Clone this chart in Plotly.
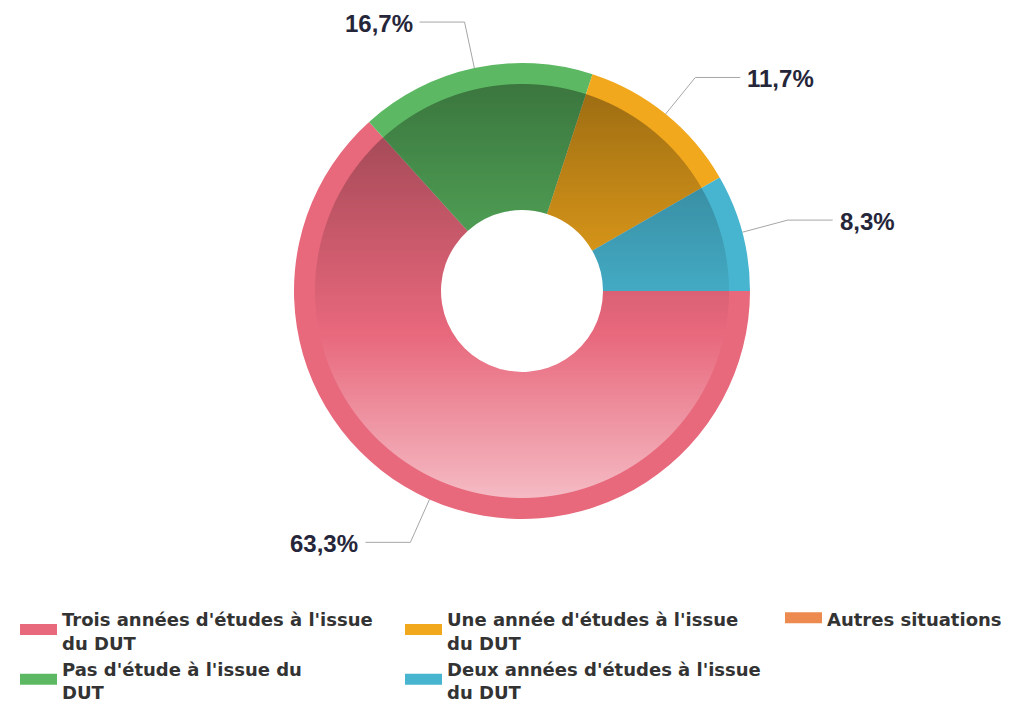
import base64
import struct
import zlib

import numpy as np
import plotly.graph_objects as go

# donnees
labels = [
    "Trois années d'études à l'issue du DUT",
    "Pas d'étude à l'issue du DUT",
    "Une année d'études à l'issue du DUT",
    "Deux années d'études à l'issue du DUT",
    "Autres situations",
]
values = [63.3, 16.7, 11.7, 8.3, 0.0]
colors = ["#e8687c", "#5cb862", "#f2a81d", "#48b5d0", "#ec8a50"]

# ordre et colonnes de la legende
legend_order = [0, 2, 4, 1, 3]
legend_names = [
    "Trois années d'études à l'issue<br>du DUT",
    "Pas d'étude à l'issue du<br>DUT",
    "Une année d'études à l'issue<br>du DUT",
    "Deux années d'études à l'issue<br>du DUT",
    "Autres situations",
]
legend_cols = ["legend", "legend", "legend2", "legend2", "legend3"]

# la page html ajoute une marge de 8px autour du graphique
OFF = 8
W, H = 1013 - OFF, 707 - OFF
CX, CY, R = 522 - OFF, 291 - OFF, 228
HOLE = 81
INNER = 207


def png_uri(rgba):
    h, w, _ = rgba.shape
    raw = b"".join(b"\x00" + rgba[i].tobytes() for i in range(h))

    def chunk(tag, data):
        c = struct.pack(">I", len(data)) + tag + data
        return c + struct.pack(">I", zlib.crc32(tag + data) & 0xFFFFFFFF)

    png = (b"\x89PNG\r\n\x1a\n"
           + chunk(b"IHDR", struct.pack(">IIBBBBB", w, h, 8, 6, 0, 0, 0))
           + chunk(b"IDAT", zlib.compress(raw, 9))
           + chunk(b"IEND", b""))
    return "data:image/png;base64," + base64.b64encode(png).decode()


def ring_shading():
    # degrade vertical (sombre en haut, clair en bas) sur la partie interieure
    n = 2 * INNER
    yy, xx = np.mgrid[0:n, 0:n] + 0.5
    r = np.hypot(xx - INNER, yy - INNER)
    mask = np.clip(r - HOLE + 0.5, 0, 1) * np.clip(INNER - r + 0.5, 0, 1)
    t = yy / n
    dark = t < 0.6
    alpha = np.where(dark, 0.36 * (1 - t / 0.6), 0.55 * (t - 0.6) / 0.4)
    img = np.zeros((n, n, 4), dtype=np.uint8)
    img[..., :3] = np.where(dark, 0, 255)[..., None]
    img[..., 3] = np.clip(alpha * mask * 255, 0, 255).astype(np.uint8)
    return png_uri(img)


fig = go.Figure()

fig.add_trace(go.Pie(
    labels=labels,
    values=values,
    sort=False,
    direction="clockwise",
    rotation=90,
    hole=HOLE / R,
    textinfo="none",
    marker=dict(colors=colors, line=dict(width=0)),
    domain=dict(x=[(CX - R) / W, (CX + R) / W], y=[(H - CY - R) / H, (H - CY + R) / H]),
    showlegend=False,
))

# connecteurs et etiquettes
cum = 0.0
total = sum(values)
for v in values:
    if v <= 0:
        continue
    mid = (cum + v / 2) / total * 2 * np.pi
    cum += v
    ang = -mid
    ex, ey = CX + R * np.cos(ang), CY - R * np.sin(ang)
    kx, ky = CX + (R + 47) * np.cos(ang), CY - (R + 47) * np.sin(ang)
    side = 1 if np.cos(ang) >= 0 else -1
    hx = kx + side * 45
    fig.add_trace(go.Scatter(
        x=[ex, kx, hx], y=[ey, ky, ky], mode="lines",
        line=dict(color="#a6a6a6", width=1),
        hoverinfo="skip", showlegend=False,
    ))
    fig.add_annotation(
        x=hx + side * 5, y=ky + 1, xref="x", yref="y",
        text=f"{v:.1f}".replace(".", ",") + "%",
        showarrow=False,
        xanchor="left" if side > 0 else "right", yanchor="middle",
        font=dict(family="Liberation Sans", size=24, color="#26263a", weight="bold"),
    )

# legende
for i in legend_order:
    fig.add_trace(go.Scatter(
        x=[None], y=[None], mode="lines",
        line=dict(color=colors[i], width=10),
        fill="toself", fillcolor=colors[i],
        name=legend_names[i], legend=legend_cols[i],
    ))

leg_font = dict(family="DejaVu Sans", size=18, color="#333333", weight="bold")
leg_common = dict(orientation="v", yanchor="top", xanchor="left", itemwidth=37,
                  font=leg_font, bgcolor="rgba(0,0,0,0)", tracegroupgap=0,
                  itemclick=False, itemdoubleclick=False)
leg_top = (H - 593) / H

fig.update_layout(
    width=W,
    height=H,
    margin=dict(l=0, r=0, t=0, b=0, autoexpand=False),
    paper_bgcolor="white",
    plot_bgcolor="white",
    xaxis=dict(range=[0, W], visible=False, fixedrange=True),
    yaxis=dict(range=[H, 0], visible=False, fixedrange=True),
    legend=dict(x=7 / W, y=leg_top, **leg_common),
    legend2=dict(x=392 / W, y=leg_top, **leg_common),
    legend3=dict(x=772 / W, y=leg_top, **leg_common),
    images=[dict(
        source=ring_shading(),
        xref="paper", yref="paper",
        x=(CX - INNER) / W, y=(H - CY + INNER) / H,
        sizex=2 * INNER / W, sizey=2 * INNER / H,
        xanchor="left", yanchor="top", sizing="stretch", layer="above",
    )],
)

fig.write_html("out.html")
